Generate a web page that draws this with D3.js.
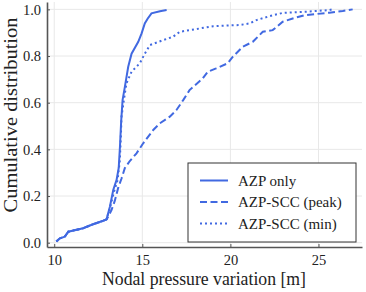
<!DOCTYPE html>
<html>
<head>
<meta charset="UTF-8">
<script src="https://d3js.org/d3.v7.min.js"></script>
<style>
  body { margin: 0; background: white; }
  svg text { font-family: "Liberation Serif", "DejaVu Serif", serif; fill: #222; }
</style>
</head>
<body>
<svg></svg>
<script>
let width = 366, height = 292;

// AZP only
let azpX = [10.12, 10.32, 10.6, 10.8, 11.64, 12.2, 12.78, 12.97, 13.16, 13.35, 13.54, 13.66, 13.73, 13.8, 13.88, 14.01, 14.2, 14.39, 14.77, 14.96, 15.14, 15.3, 15.52, 16.0, 16.38];
let azpY = [0.005, 0.019, 0.026, 0.047, 0.062, 0.079, 0.094, 0.10, 0.154, 0.226, 0.269, 0.32, 0.41, 0.52, 0.611, 0.668, 0.754, 0.81, 0.861, 0.897, 0.94, 0.96, 0.983, 0.992, 0.997];
// AZP-SCC (peak)
let peakX = [10.12, 10.32, 10.6, 10.8, 11.64, 12.2, 12.78, 12.97, 13.06, 13.25, 13.44, 13.63, 13.82, 14.01, 14.29, 14.67, 15.05, 15.62, 16.0, 16.56, 16.94, 17.32, 17.68, 18.43, 18.72, 19.19, 19.85, 20.14, 20.7, 21.27, 21.84, 22.4, 22.97, 23.54, 24.2, 24.86, 25.62, 26.38, 26.94];
let peakY = [0.005, 0.019, 0.026, 0.047, 0.062, 0.079, 0.094, 0.10, 0.111, 0.14, 0.18, 0.235, 0.275, 0.32, 0.35, 0.383, 0.426, 0.483, 0.512, 0.54, 0.569, 0.611, 0.654, 0.704, 0.733, 0.747, 0.769, 0.797, 0.84, 0.861, 0.904, 0.911, 0.947, 0.961, 0.975, 0.98, 0.986, 0.993, 1.0];
// AZP-SCC (min)
let minX = [10.12, 10.32, 10.6, 10.8, 11.64, 12.2, 12.78, 12.97, 13.2, 13.4, 13.6, 13.72, 13.78, 13.82, 13.95, 14.1, 14.39, 14.86, 15.14, 15.43, 16.18, 16.75, 17.13, 17.7, 19.02, 20.53, 21.1, 21.48, 22.23, 22.97, 24.3, 25.62, 25.8];
let minY = [0.005, 0.019, 0.026, 0.047, 0.062, 0.079, 0.094, 0.10, 0.16, 0.22, 0.27, 0.35, 0.45, 0.54, 0.61, 0.683, 0.733, 0.769, 0.81, 0.847, 0.868, 0.883, 0.904, 0.911, 0.928, 0.933, 0.94, 0.954, 0.971, 0.985, 0.99, 0.997, 1.0];

let xTicks = [10, 15, 20, 25];
let yTicks = [0.0, 0.2, 0.4, 0.6, 0.8, 1.0];
let labels = ["AZP only", "AZP-SCC (peak)", "AZP-SCC (min)"];
let dashes = [null, "7,3.5", "2,3"];

let svg = d3.select("svg").attr("width", width).attr("height", height);

let pLeft = 47, pRight = 362, pTop = 2, pBottom = 247;
let x = d3.scaleLinear().domain([9.59, 27.47]).range([pLeft, pRight]);
let y = d3.scaleLinear().domain([-0.0184, 1.0316]).range([pBottom, pTop]);

// grid
svg.append("g").selectAll("line").data(xTicks).enter().append("line")
    .attr("x1", d => x(d)).attr("x2", d => x(d))
    .attr("y1", pTop).attr("y2", pBottom)
    .attr("stroke", "#e8e8e8").attr("stroke-width", 1);
svg.append("g").selectAll("line").data(yTicks).enter().append("line")
    .attr("x1", pLeft).attr("x2", pRight)
    .attr("y1", d => y(d)).attr("y2", d => y(d))
    .attr("stroke", "#e8e8e8").attr("stroke-width", 1);

// axes
let xAxis = d3.axisBottom(x).tickValues(xTicks).tickFormat(d3.format("d")).tickSizeInner(-3).tickSizeOuter(0).tickPadding(8);
let yAxis = d3.axisLeft(y).tickValues(yTicks).tickFormat(d3.format(".1f")).tickSizeInner(-3).tickSizeOuter(0).tickPadding(6);

let gx = svg.append("g").attr("transform", `translate(0,${pBottom})`).call(xAxis);
let gy = svg.append("g").attr("transform", `translate(${pLeft},0)`).call(yAxis);
[gx, gy].forEach(g => {
  g.attr("font-family", null);
  g.select(".domain").attr("stroke", "#555").attr("stroke-width", 1.6);
  g.selectAll(".tick line").attr("stroke", "#555");
  g.selectAll("text").style("font-size", "14.5px").attr("fill", "#222");
});

// lines
let series = [[azpX, azpY], [peakX, peakY], [minX, minY]];
let line = d3.line().x(d => x(d[0])).y(d => y(d[1]));
series.forEach((s, i) => {
  svg.append("path")
    .datum(s[0].map((v, j) => [v, s[1][j]]))
    .attr("d", line)
    .attr("fill", "none")
    .attr("stroke", "royalblue")
    .attr("stroke-width", 2)
    .attr("stroke-dasharray", dashes[i]);
});

// axis labels
svg.append("text").attr("x", 204).attr("y", 285).attr("text-anchor", "middle")
    .attr("textLength", 204).attr("lengthAdjust", "spacingAndGlyphs")
    .style("font-size", "18px").text("Nodal pressure variation [m]");
svg.append("text").attr("transform", "translate(17,115) rotate(-90)").attr("text-anchor", "middle")
    .attr("textLength", 195).attr("lengthAdjust", "spacingAndGlyphs")
    .style("font-size", "18px").text("Cumulative distribution");

// legend
let lg = svg.append("g");
lg.append("rect").attr("x", 188).attr("y", 163).attr("width", 168).attr("height", 79)
    .attr("fill", "white").attr("stroke", "#333").attr("stroke-width", 1);
labels.forEach((t, i) => {
  let ly = 180.5 + i * 21.5;
  lg.append("line").attr("x1", 200).attr("x2", 228).attr("y1", ly).attr("y2", ly)
    .attr("stroke", "royalblue").attr("stroke-width", 2).attr("stroke-dasharray", dashes[i]);
  lg.append("text").attr("x", 238).attr("y", ly + 5).style("font-size", "15px").text(t);
});
</script>
</body>
</html>
